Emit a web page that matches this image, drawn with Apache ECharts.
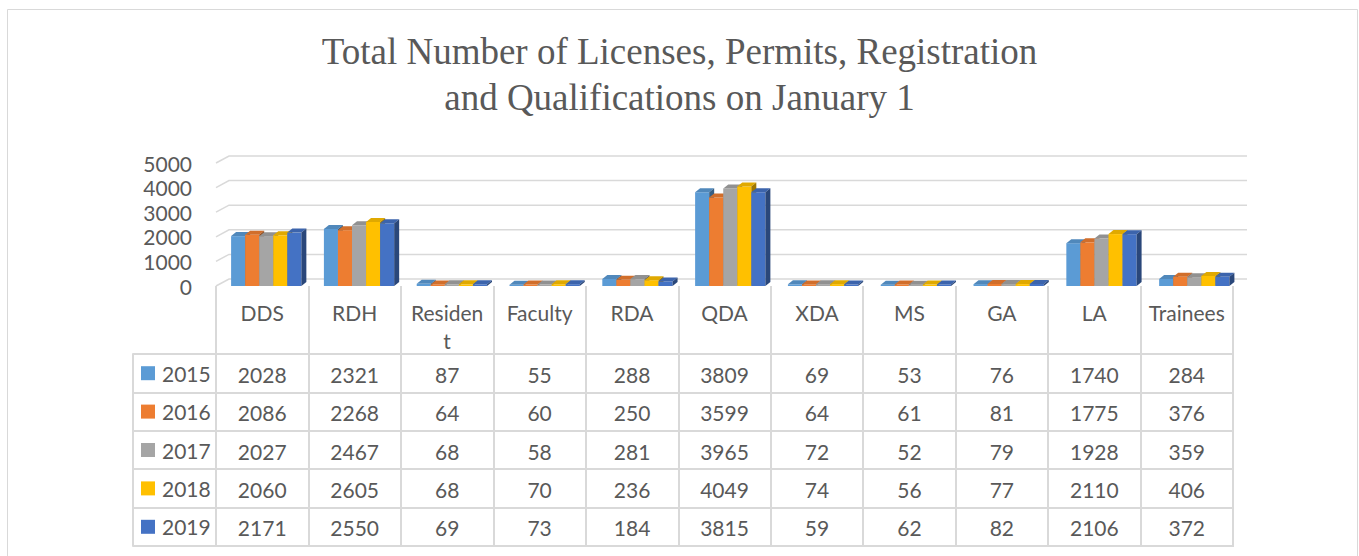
<!DOCTYPE html>
<html><head><meta charset="utf-8">
<script src="https://cdn.jsdelivr.net/npm/echarts@6/dist/echarts.min.js"></script>
<style>html,body{margin:0;padding:0;background:#fff}#c{width:1359px;height:556px}</style>
</head><body><div id="c"></div>
<script>
const categories = ['DDS','RDH','Resident','Faculty','RDA','QDA','XDA','MS','GA','LA','Trainees'];
const years = ['2015','2016','2017','2018','2019'];
const v2015 = [2028,2321,87,55,288,3809,69,53,76,1740,284];
const v2016 = [2086,2268,64,60,250,3599,64,61,81,1775,376];
const v2017 = [2027,2467,68,58,281,3965,72,52,79,1928,359];
const v2018 = [2060,2605,68,70,236,4049,74,56,77,2110,406];
const v2019 = [2171,2550,69,73,184,3815,59,62,82,2106,372];
const yTicks = [0,1000,2000,3000,4000,5000];
const colors = ['#5B9BD5','#ED7D31','#A5A5A5','#FFC000','#4472C4'];
const titleText = 'Total Number of Licenses, Permits, Registration\nand Qualifications on January 1';

const seriesValues = [v2015, v2016, v2017, v2018, v2019];
const TXT = '#595959', LINE = '#D9D9D9', FONT = 'Lato, "Open Sans", sans-serif';

function shade(hex, f) {
  const n = parseInt(hex.slice(1), 16);
  const r = Math.round(((n >> 16) & 255) * f), g = Math.round(((n >> 8) & 255) * f), b = Math.round((n & 255) * f);
  return 'rgb(' + r + ',' + g + ',' + b + ')';
}

const chart = echarts.init(document.getElementById('c'), null, {renderer: 'svg'});

const series = [];
// perspective gridlines
series.push({
  type: 'custom', xAxisIndex: 0, yAxisIndex: 0, z: 1, silent: true,
  data: yTicks.map(v => [0, v]),
  renderItem: function (params, api) {
    const p = api.coord([0, api.value(1)]);
    const cs = params.coordSys;
    const x0 = cs.x, y = p[1];
    return {type: 'polyline', shape: {points: [[x0, y], [x0 + 13, y - 7], [x0 + cs.width + 14, y - 7]]},
      style: {stroke: LINE, lineWidth: 1.5, fill: null}};
  }
});
// 3D bars
seriesValues.forEach(function (vals, s) {
  const c = colors[s], topC = shade(c, 0.88), sideC = shade(c, 0.62);
  series.push({
    type: 'custom', name: years[s], xAxisIndex: 0, yAxisIndex: 0, z: 2 + s,
    data: vals.map((v, i) => [i, v]),
    renderItem: function (params, api) {
      const idx = api.value(0), val = api.value(1);
      const top = api.coord([idx, val]), base = api.coord([idx, 0]);
      const band = api.size([1, 0])[0];
      const groupW = band * 0.76, bw = groupW / 5;
      const shift = 4 + idx * 0.35;
      const x0 = top[0] - groupW / 2 + shift + s * bw, x1 = x0 + bw;
      const yt = top[1], yb = base[1];
      const dx = 5, dy = 4;
      return {type: 'group', children: [
        {type: 'rect', shape: {x: x0, y: yt, width: bw, height: Math.max(0, yb - yt)}, style: {fill: c}},
        {type: 'polygon', shape: {points: [[x0, yt], [x1, yt], [x1 + dx, yt - dy], [x0 + dx, yt - dy]]}, style: {fill: topC}},
        {type: 'polygon', shape: {points: [[x1, yt], [x1 + dx, yt - dy], [x1 + dx, yb - dy], [x1, yb]]}, style: {fill: sideC}}
      ]};
    }
  });
});
// data table values
const tableData = [];
seriesValues.forEach((vals, s) => vals.forEach((v, i) => tableData.push([i, s, v])));
series.push({
  type: 'custom', xAxisIndex: 1, yAxisIndex: 1, z: 10, silent: true,
  data: tableData,
  renderItem: function (params, api) {
    const p = api.coord([api.value(0), api.value(1)]);
    return {type: 'text', x: p[0], y: p[1] + 1,
      style: {text: String(api.value(2)), align: 'center', verticalAlign: 'middle', fill: TXT, fontSize: 21, fontFamily: FONT}};
  }
});

const rich = {t: {color: TXT, fontSize: 21, fontFamily: FONT, padding: [0, 0, 0, 7]}};
colors.forEach((c, i) => { rich['s' + i] = {width: 14, height: 14, backgroundColor: c}; });

chart.setOption({
  animation: false,
  title: {text: titleText, left: 'center', top: 23,
    textStyle: {fontFamily: '"Liberation Serif", "Times New Roman", serif', fontSize: 37, fontWeight: 'normal', color: TXT, lineHeight: 46}},
  graphic: [{type: 'rect', shape: {x: 7.5, y: 9.5, width: 1350, height: 560}, style: {fill: null, stroke: LINE, lineWidth: 1}, silent: true}],
  grid: [
    {left: 216, right: 126, top: 163, bottom: 270},
    {left: 216, right: 126, top: 354, bottom: 10, show: true, borderColor: LINE, borderWidth: 2, backgroundColor: 'transparent'}
  ],
  xAxis: [
    {type: 'category', gridIndex: 0, data: categories, boundaryGap: true,
      axisLine: {show: false},
      axisTick: {show: true, interval: 0, length: 68, alignWithLabel: false, lineStyle: {color: LINE, width: 2}},
      axisLabel: {interval: 0, margin: 12, color: TXT, fontSize: 21, fontFamily: FONT, lineHeight: 28,
        formatter: v => v === 'Resident' ? 'Residen\nt' : v},
      splitLine: {show: false}},
    {type: 'category', gridIndex: 1, data: categories, boundaryGap: true,
      axisLine: {show: false}, axisTick: {show: false}, axisLabel: {show: false},
      splitLine: {show: true, interval: 0, lineStyle: {color: LINE, width: 2}}}
  ],
  yAxis: [
    {type: 'value', gridIndex: 0, min: 0, max: 5000, interval: 1000,
      axisLine: {show: false}, axisTick: {show: false}, splitLine: {show: false},
      axisLabel: {margin: 24, color: TXT, fontSize: 21, fontFamily: FONT, formatter: v => String(v)}},
    {type: 'category', gridIndex: 1, data: years, inverse: true, boundaryGap: true, offset: 83, position: 'left',
      axisLine: {show: true, lineStyle: {color: LINE, width: 2}},
      axisTick: {show: true, inside: true, length: 83, interval: 0, lineStyle: {color: LINE, width: 2}},
      axisLabel: {inside: true, margin: 8, interval: 0, formatter: (v, i) => '{s' + i + '|}{t|' + v + '}', rich: rich},
      splitLine: {show: true, interval: 0, lineStyle: {color: LINE, width: 2}}}
  ],
  series: series
});
</script>
</body></html>
